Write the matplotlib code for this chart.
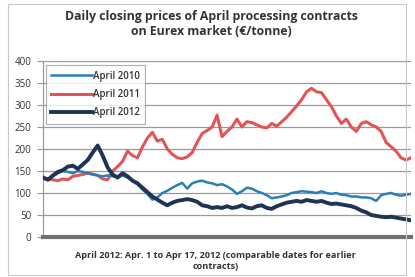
import matplotlib
matplotlib.use("Agg")
import matplotlib.pyplot as plt
from matplotlib.patches import Rectangle

plt.rcParams['font.family'] = ['Open Sans', 'DejaVu Sans']

x_pix = list(range(43, 414, 5))

april_2011 = [135, 132, 130, 128, 132, 130, 138, 140, 142, 145, 143, 140, 132, 130, 150,
              160, 172, 195, 185, 180, 205, 225, 238, 218, 222, 200, 188, 180, 178, 182,
              192, 215, 235, 242, 250, 277, 228, 240, 250, 268, 250, 262, 260, 255, 250,
              248, 258, 252, 262, 272, 285, 298, 312, 330, 338, 330, 328, 312, 296, 275,
              258, 268, 250, 240, 258, 262, 255, 250, 240, 215, 205, 195, 180, 175, 180]

april_2010 = [135, 132, 138, 145, 150, 148, 145, 150, 148, 145, 142, 140, 138, 140, 138,
              136, 140, 135, 128, 120, 108, 98, 85, 90, 100, 105, 112, 118, 123, 110,
              122, 126, 128, 124, 122, 118, 120, 115, 108, 98, 104, 112, 110, 104, 100,
              95, 88, 90, 92, 95, 100, 102, 104, 103, 102, 100, 104, 100, 98, 100,
              96, 95, 92, 92, 90, 90, 88, 82, 95, 98, 100, 96, 94, 96, 98]

april_2012 = [135, 130, 140, 148, 152, 160, 162, 155, 165, 175, 192, 208, 185, 158, 142,
              135, 145, 138, 128, 122, 112, 102, 92, 85, 78, 72, 78, 82, 84, 86,
              84, 80, 72, 70, 66, 68, 66, 70, 66, 68, 72, 67, 65, 70, 72,
              66, 64, 70, 74, 78, 80, 82, 80, 84, 82, 80, 82, 78, 75, 76,
              74, 72, 70, 66, 60, 56, 50, 48, 46, 45, 46, 44, 42, 40, 38]

series_names = ['April 2010', 'April 2011', 'April 2012']
y_ticks = [0, 50, 100, 150, 200, 250, 300, 350, 400]
title = "Daily closing prices of April processing contracts\non Eurex market (\u20ac/tonne)"
xlabel = "April 2012: Apr. 1 to Apr 17, 2012 (comparable dates for earlier\ncontracts)"

W, H = 415, 277
fig = plt.figure(figsize=(W / 100, H / 100), dpi=100)

# outer chart border
fig.patches.append(Rectangle((8 / W, 2 / H), (W - 9) / W - 8 / W, (H - 4) / H - 2 / H,
                             transform=fig.transFigure, fill=False,
                             edgecolor='#c8c8c8', linewidth=0.8))

left, right, bottom, top = 43, 411, 237, 61
ax = fig.add_axes([left / W, 1 - bottom / H, (right - left) / W, (bottom - top) / H])

n = len(x_pix)
idx = list(range(n))
ax.plot(idx, april_2010, color='#2b7fb5', lw=1.8, label=series_names[0], zorder=3)
ax.plot(idx, april_2011, color='#e05555', lw=2.2, label=series_names[1], zorder=2)
ax.plot(idx, april_2012, color='#1f3452', lw=2.8, label=series_names[2], zorder=4)

ax.set_xlim(0, n - 1)
ax.set_ylim(0, 400)
ax.set_yticks(y_ticks)
ax.set_yticklabels([str(v) for v in y_ticks], fontsize=7.0, color='#333333')
ax.set_xticks([])
ax.grid(axis='y', color='#9a9a9a', lw=0.9)
ax.set_axisbelow(True)
for s in ['top', 'right']:
    ax.spines[s].set_visible(False)
ax.spines['left'].set_color('#9a9a9a')
ax.spines['left'].set_linewidth(0.9)
ax.spines['bottom'].set_color('#707070')
ax.spines['bottom'].set_linewidth(3.0)
ax.tick_params(axis='y', length=4, color='#9a9a9a', pad=4.5)

leg = ax.legend(loc='upper left', bbox_to_anchor=(0.005, 0.98), fontsize=7.0,
                frameon=True, fancybox=False, edgecolor='#9a9a9a',
                handlelength=4.2, handletextpad=0.1, borderpad=0.55, labelspacing=0.75,
                borderaxespad=0.1)
leg.get_frame().set_linewidth(0.8)
for t in leg.get_texts():
    t.set_fontweight('semibold')
    t.set_color('#333333')

fig.text(0.51, 1 - 24 / H, title, ha='center', va='center', fontsize=8.8,
         fontweight='bold', color='#333333', linespacing=1.25)
fig.text(0.52, 1 - 261 / H, xlabel, ha='center', va='center', fontsize=6.6,
         fontweight='bold', color='#333333', linespacing=1.3)

fig.savefig('out.png', dpi=100)
